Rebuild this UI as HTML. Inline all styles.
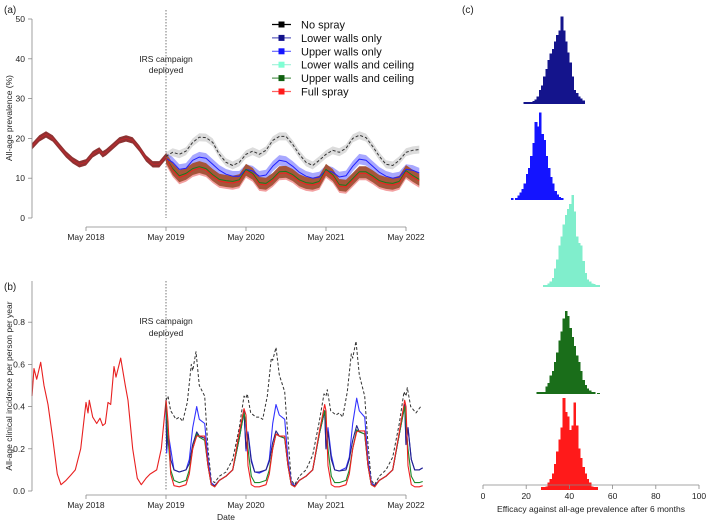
<!DOCTYPE html>
<html><head><meta charset="utf-8"><style>
body{margin:0;background:#fff;}
svg{display:block;font-family:"Liberation Sans",Arial,sans-serif;}
</style></head><body>
<svg id="chart" width="708" height="523" viewBox="0 0 708 523">
<g id="pa"></g>
<g id="pb"></g>
<g id="pc"></g>
</svg>
<script>
// ---------- Panel (a) data: months since May 2018 ----------
const preT=[-8.1,-7,-6,-5,-4,-3,-2,-1,0,1,1.5,2,2.5,3,4,5,6,7,8,9,10,11,12];
const preV=[18,20,21,20,18,16,14.5,13.5,14,16,16.5,17,16,16.5,18,19.5,20,19.5,17.5,15,13.5,13.5,15.5];
const postT=[12,13,14,15,16,17,18,19,20,21,22,23,24,25,26,27,28,29,30,31,32,33,34,35,36,37,38,39,40,41,42,43,44,45,46,47,48,49,50];
const noSpray=[15.5,16.5,16,16.8,19,20.3,20.2,19,16,14,13.2,14,16,16.8,16,17,19.5,20.5,20.5,18.5,16,14,13.2,14.5,16,17,16.5,17.5,20,20.8,20.2,18,15.5,13.5,13.2,14.5,16.5,17,17.2];
const upperWalls=[15,14,12.2,12.5,14.5,15.3,15,13.5,12,11,10.5,10.5,12.2,11.8,10.5,10.8,13,14.5,14.2,13,11.5,10.5,10,10.3,12,11.5,10.3,10.6,13,14.8,14.5,13,11.5,10.5,10,10.3,12.2,12,11.3];
const lowerWalls=[15,12.4,10.6,11.2,12.4,12.9,12.4,10.9,9.7,9.4,9.2,9.6,12.2,11.2,8.9,8.7,9.9,11.6,11.7,10.9,9.6,8.9,8.7,9.2,12.2,10.9,8.4,8.2,9.9,11.6,11.6,10.6,9.4,8.9,8.7,9.2,11.9,10.7,9.7];
const fullSpray=[15,12,10.2,10.8,12,12.5,12,10.5,9.3,9,8.8,9.2,11.8,10.8,8.5,8.3,9.5,11.2,11.3,10.5,9.2,8.5,8.3,8.8,11.8,10.5,8,7.8,9.5,11.2,11.2,10.2,9,8.5,8.3,8.8,11.5,10.3,9.3];
// ---------- Panel (b) data ----------
const bPreT=[-8.1,-7.8,-7.4,-6.8,-6.3,-5.7,-5,-4.3,-3.75,-3,-2.3,-1.6,-0.8,0,0.3,0.5,1,1.6,2.1,2.5,2.9,3.3,3.7,4.2,4.5,5.2,5.9,6.3,7,7.7,8.3,9,9.6,10.6,11.3,12];
const bPreV=[0.45,0.58,0.53,0.61,0.5,0.41,0.25,0.08,0.03,0.05,0.075,0.1,0.2,0.42,0.37,0.43,0.35,0.32,0.345,0.31,0.32,0.42,0.41,0.59,0.54,0.63,0.5,0.43,0.2,0.06,0.03,0.06,0.08,0.1,0.2,0.43];
const bNoT=[12,12.3,12.7,13.5,14,14.5,15.2,15.8,16,16.5,17,17.8,18.3,18.8,19.3,20,21,22,23,23.7,24,24.2,24.7,25.5,26,26.5,27.2,27.8,28,28.5,29,29.8,30.3,30.8,31.3,32,33,34,35,35.7,36,36.2,36.7,37.5,38,38.5,39.2,39.8,40,40.5,41,41.8,42.3,42.8,43.3,44,45,46,47,47.7,48,48.2,48.7,49.5,50.2];
const bNoV=[0.43,0.45,0.38,0.34,0.35,0.33,0.42,0.6,0.57,0.66,0.5,0.45,0.2,0.05,0.04,0.07,0.09,0.15,0.3,0.45,0.44,0.46,0.37,0.35,0.35,0.34,0.45,0.63,0.62,0.68,0.55,0.47,0.25,0.05,0.03,0.07,0.1,0.17,0.33,0.46,0.45,0.48,0.38,0.36,0.37,0.35,0.47,0.65,0.63,0.71,0.55,0.45,0.22,0.05,0.03,0.07,0.1,0.16,0.32,0.47,0.45,0.49,0.4,0.37,0.4];
const bT=[12,12.1,12.3,12.7,13.2,14,15,15.5,16,16.6,17,17.8,18.3,18.8,19.3,20,21,22,23,23.7,24,24.3,24.8,25.3,26,27,27.5,28,28.5,29,29.8,30.3,30.8,31.3,32,33,34,35,35.8,36,36.3,36.8,37.3,38,39,39.5,40,40.6,41,41.8,42.3,42.8,43.3,44,45,46,47,47.8,48,48.3,48.8,49.3,50,50.5];
const bUpper=[0.43,0.18,0.28,0.2,0.1,0.09,0.1,0.15,0.3,0.4,0.34,0.32,0.15,0.04,0.025,0.05,0.07,0.1,0.25,0.38,0.19,0.28,0.15,0.09,0.085,0.1,0.15,0.32,0.41,0.36,0.34,0.15,0.04,0.025,0.05,0.07,0.1,0.27,0.38,0.2,0.3,0.17,0.1,0.095,0.11,0.16,0.32,0.44,0.38,0.35,0.15,0.04,0.025,0.05,0.07,0.1,0.27,0.41,0.22,0.3,0.15,0.1,0.1,0.11];
const bLower=[0.43,0.2,0.28,0.15,0.1,0.09,0.1,0.13,0.22,0.28,0.26,0.25,0.12,0.03,0.025,0.05,0.07,0.1,0.25,0.38,0.2,0.27,0.14,0.09,0.09,0.1,0.14,0.23,0.285,0.26,0.25,0.12,0.03,0.025,0.05,0.07,0.1,0.27,0.38,0.2,0.28,0.15,0.1,0.095,0.1,0.15,0.24,0.31,0.28,0.27,0.12,0.03,0.025,0.05,0.07,0.1,0.27,0.41,0.22,0.3,0.15,0.1,0.1,0.11];
const bGreen=[0.43,0.35,0.25,0.1,0.05,0.04,0.05,0.1,0.2,0.27,0.255,0.24,0.12,0.03,0.02,0.05,0.07,0.1,0.25,0.37,0.32,0.2,0.07,0.04,0.04,0.05,0.1,0.2,0.27,0.26,0.25,0.12,0.03,0.02,0.05,0.07,0.1,0.27,0.38,0.33,0.2,0.07,0.04,0.04,0.05,0.1,0.2,0.29,0.28,0.27,0.12,0.03,0.02,0.05,0.07,0.1,0.27,0.4,0.32,0.2,0.07,0.04,0.04,0.045];
const bFull=[0.43,0.4,0.33,0.08,0.025,0.02,0.03,0.08,0.2,0.26,0.26,0.26,0.12,0.03,0.02,0.05,0.07,0.1,0.28,0.39,0.36,0.12,0.03,0.02,0.02,0.03,0.08,0.2,0.27,0.26,0.26,0.12,0.03,0.02,0.05,0.07,0.1,0.28,0.41,0.38,0.12,0.03,0.02,0.02,0.03,0.08,0.2,0.28,0.285,0.285,0.12,0.03,0.02,0.05,0.07,0.1,0.28,0.43,0.4,0.12,0.03,0.02,0.02,0.025];
// ---------- Panel (c) histogram data (bin start, counts per 1-unit bin) ----------
const histStarts=[19,13,28,25,27];
const histNavy=[2,2,2,2,3,5,8,15,20,30,38,48,55,60,68,75,80,95,80,68,56,45,30,15,12,8,6,4];
const histBlue=[2,0,2,5,8,12,18,28,35,48,62,85,80,95,72,65,48,35,25,18,10,6,3,2];
const histAqua=[2,2,4,6,10,20,30,45,55,68,78,85,90,100,82,55,48,45,28,15,8,6,4,3,2,2];
const histGreen=[2,2,2,2,8,12,20,25,35,45,58,68,82,90,85,72,62,52,42,35,25,15,10,6,4,2,2,0,1];
const histRed=[3,3,4,8,12,18,28,42,55,68,100,85,80,65,70,95,70,45,35,25,18,12,8,4,3,3];

const NS="http://www.w3.org/2000/svg";
function mk(p,tag,at,txt){const e=document.createElementNS(NS,tag);for(const k in at)e.setAttribute(k,at[k]);if(txt!==undefined)e.textContent=txt;p.appendChild(e);return e;}
const pa=document.getElementById('pa'),pb=document.getElementById('pb'),pc=document.getElementById('pc');
const xt=t=>86+t*80/12;
const ya=v=>218-v*3.98;
const yb=v=>491-v*211;
const xc=v=>483+v*2.16;
function pts(T,V,fy){return T.map((t,i)=>xt(t).toFixed(1)+','+fy(V[i]).toFixed(1)).join(' ');}
function band(p,T,lo,hi,fy,fill,name){
  const up=T.map((t,i)=>xt(t).toFixed(1)+','+fy(hi[i]).toFixed(1));
  const dn=T.map((t,i)=>xt(t).toFixed(1)+','+fy(lo[i]).toFixed(1)).reverse();
  const e=mk(p,'polygon',{points:up.concat(dn).join(' '),fill:fill,stroke:'none'});
  
  
}
function line(p,T,V,fy,col,w,name,dash){
  const e=mk(p,'polyline',{points:pts(T,V,fy),fill:'none',stroke:col,'stroke-width':w,'stroke-linejoin':'round'});
  if(dash)e.setAttribute('stroke-dasharray',dash);
  
  
}
function txt(p,x,y,s,size,anchor,name,extra){
  const e=mk(p,'text',Object.assign({x:x,y:y,'font-size':size,'text-anchor':anchor||'middle',fill:'#222'},extra||{}),s);
  
  
  return e;
}
const add=(a,d)=>a.map(v=>v+d);

// ===== Panel A =====
txt(pa,4,13,'(a)',10,'start','panel-a-label');
band(pa,postT,add(noSpray,-1),add(noSpray,1),ya,'#dcdcdc','band-no-spray');
band(pa,postT,add(upperWalls,-1.3),add(upperWalls,1.3),ya,'rgba(110,110,255,0.6)','band-upper-walls');
band(pa,postT,add(fullSpray,-1.7),add(fullSpray,1.2),ya,'#f2a0a0','band-full-spray');
band(pa,postT,add(fullSpray,-1.2),add(lowerWalls,1.4),ya,'#a5553a','band-combined');
band(pa,preT,add(preV,-0.8),add(preV,0.8),ya,'#8e3232','band-pre-campaign');
line(pa,preT,preV,ya,'#c0282d',1,'line-pre-campaign');
line(pa,postT,noSpray,ya,'#333',1,'line-no-spray','3,2');
line(pa,postT,upperWalls,ya,'#1f1fff',1,'line-upper-walls');
line(pa,postT,lowerWalls,ya,'#1a7a1a',1,'line-upper-walls-ceiling');
line(pa,postT,fullSpray,ya,'#ee2020',1,'line-full-spray');
mk(pa,'line',{x1:166,y1:10,x2:166,y2:218,stroke:'#555','stroke-width':0.8,'stroke-dasharray':'1.5,1.5'});
txt(pa,166,62,'IRS campaign',8.5,'middle','irs-annotation-a');
txt(pa,166,73,'deployed',8.5,'middle','irs-annotation-a-2');
mk(pa,'line',{x1:32,y1:ya(0),x2:32,y2:ya(50),stroke:'#888','stroke-width':0.8});
[0,10,20,30,40,50].forEach(v=>{mk(pa,'line',{x1:28,x2:32,y1:ya(v),y2:ya(v),stroke:'#888','stroke-width':0.8});txt(pa,25,ya(v)+3,String(v),8.5,'end','y-tick-a-'+v);});
txt(pa,12,118,'All-age prevalence (%)',8.5,'middle','y-axis-title-a',{transform:'rotate(-90 12 118)'});
const months=[0,12,24,36,48],mlabels=['May 2018','May 2019','May 2020','May 2021','May 2022'];
function xaxis(p,y,pfx){mk(p,'line',{x1:xt(0),x2:xt(48),y1:y,y2:y,stroke:'#888','stroke-width':0.8});
 months.forEach((m,i)=>{mk(p,'line',{x1:xt(m),x2:xt(m),y1:y,y2:y+4,stroke:'#888','stroke-width':0.8});txt(p,xt(m),y+13,mlabels[i],8.5,'middle',pfx+'-x-tick-'+i);});}
xaxis(pa,227,'a');
const legNames=['No spray','Lower walls only','Upper walls only','Lower walls and ceiling','Upper walls and ceiling','Full spray'];
const legCols=['#000','#12128a','#1515ff','#7fffd4','#106010','#ff1a1a'];
const legLine=['#000','#6060c0','#6060ff','#a0f0d8','#5a9a5a','#ff6060'];
legNames.forEach((n,i)=>{const y=24.5+i*13.4;
 const g=mk(pa,'g',{});
 
 
 mk(g,'line',{x1:272,x2:291,y1:y,y2:y,stroke:legLine[i],'stroke-width':1.2});
 mk(g,'rect',{x:278.5,y:y-3,width:6,height:6,fill:legCols[i]});
 mk(g,'text',{x:301,y:y+4,'font-size':11,fill:'#111'},n);});

// ===== Panel B =====
txt(pb,4,290,'(b)',10,'start','panel-b-label');
mk(pb,'line',{x1:166,y1:281,x2:166,y2:491,stroke:'#555','stroke-width':0.8,'stroke-dasharray':'1.5,1.5'});
txt(pb,166,324,'IRS campaign',8.5,'middle','irs-annotation-b');
txt(pb,166,336,'deployed',8.5,'middle','irs-annotation-b-2');
line(pb,bPreT,bPreV,yb,'#e82020',1.1,'incidence-pre-campaign');
line(pb,bNoT,bNoV,yb,'#333',1,'incidence-no-spray','3,2');
line(pb,bT,bUpper,yb,'#3333ff',1.1,'incidence-upper-walls');
line(pb,bT,bLower,yb,'#22228a',1.1,'incidence-lower-walls');
line(pb,bT,bGreen,yb,'#1a8a2a',1.1,'incidence-upper-walls-ceiling');
line(pb,bT,bFull,yb,'#f02020',1.1,'incidence-full-spray');
mk(pb,'line',{x1:32,y1:yb(0),x2:32,y2:281,stroke:'#888','stroke-width':0.8});
[0,0.2,0.4,0.6,0.8].forEach(v=>{mk(pb,'line',{x1:28,x2:32,y1:yb(v),y2:yb(v),stroke:'#888','stroke-width':0.8});txt(pb,25,yb(v)+3,v.toFixed(1),8.5,'end','y-tick-b-'+v);});
txt(pb,12,386,'All-age clinical incidence per person per year',8.5,'middle','y-axis-title-b',{transform:'rotate(-90 12 386)'});
xaxis(pb,495,'b');
txt(pb,226,520,'Date',8.5,'middle','x-axis-title-b');

// ===== Panel C =====
txt(pc,462,13,'(c)',10,'start','panel-c-label');
const hists=[histNavy,histBlue,histAqua,histGreen,histRed];
const hCols=['#14148c','#1414ff','#80eecc','#1a6e1a','#ff1a1a'];
const hBase=[104,200,287,394,490];
hists.forEach((h,r)=>{h.forEach((c,i)=>{if(c<=0)return;const x0=xc(histStarts[r]+i),hh=c*0.92;
 const e=mk(pc,'rect',{x:(x0-0.3).toFixed(2),y:(hBase[r]-hh).toFixed(2),width:2.8,height:hh.toFixed(2),fill:hCols[r],'shape-rendering':'crispEdges'});
 
 });});
mk(pc,'line',{x1:xc(0),x2:xc(100),y1:485,y2:485,stroke:'#888','stroke-width':0.8});
[0,20,40,60,80,100].forEach(v=>{mk(pc,'line',{x1:xc(v),x2:xc(v),y1:485,y2:489,stroke:'#888','stroke-width':0.8});txt(pc,xc(v),499,String(v),8.5,'middle','x-tick-c-'+v);});
txt(pc,xc(50),512,'Efficacy against all-age prevalence after 6 months',8.5,'middle','x-axis-title-c');
</script>
</body></html>
